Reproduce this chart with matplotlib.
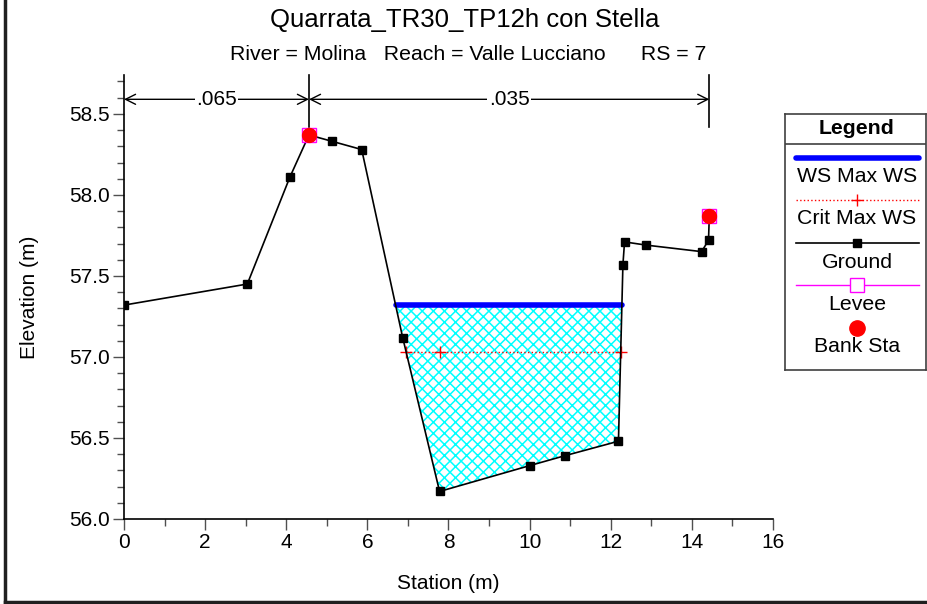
import matplotlib
matplotlib.use('Agg')
import matplotlib.pyplot as plt
from matplotlib.lines import Line2D
import numpy as np

plt.rcParams['font.family'] = ['Liberation Sans', 'DejaVu Sans']
plt.rcParams['hatch.linewidth'] = 1.1

# ground profile
station = [0.0, 3.04, 4.09, 4.56, 5.14, 5.86, 6.87, 7.78, 10.01, 10.86,
           12.19, 12.30, 12.34, 12.88, 14.24, 14.41, 14.43]
elevation = [57.32, 57.45, 58.11, 58.37, 58.33, 58.28, 57.12, 56.17, 56.33, 56.39,
             56.48, 57.57, 57.71, 57.69, 57.65, 57.72, 57.87]

ws_elev = 57.32
crit_sta = [6.96, 7.78, 12.25]
crit_elev = [57.03, 57.03, 57.03]

bank_sta = [4.56, 14.43]
bank_elev = [58.37, 57.87]

n_values = ['.065', '.035']
n_bounds = [0.0, 4.56, 14.43]

fig = plt.figure(figsize=(9.28, 6.04), dpi=100)
ax = fig.add_axes([124 / 928, 1 - 519 / 604, 649 / 928, 444 / 604])

x = np.array(station)
g = np.array(elevation)
ax.fill_between(x, g, ws_elev, where=g < ws_elev, interpolate=True,
                facecolor='white', edgecolor='#00ffff', hatch='xxx', linewidth=0)

# water surface edges = where ground crosses it
left_ws = np.interp(ws_elev, g[5:8][::-1], x[5:8][::-1])
right_ws = np.interp(ws_elev, g[10:12], x[10:12])
ax.plot([left_ws, right_ws], [ws_elev, ws_elev], color='#0000ff', lw=4,
        solid_capstyle='round', zorder=4)

ax.plot(crit_sta, crit_elev, color='red', ls=':', lw=1, marker='+', ms=8,
        mew=1, zorder=4)

ax.plot(station, elevation, color='black', lw=1.2, marker='s', ms=6, zorder=5)
ax.plot(bank_sta, bank_elev, ls='none', marker='s', ms=10, mfc='none',
        mec='magenta', mew=1, zorder=6)
ax.plot(bank_sta, bank_elev, ls='none', marker='o', ms=10, color='red', zorder=7)

# manning's n regions
y_arrow = 58.59
for i, lab in enumerate(n_values):
    a, b = n_bounds[i], n_bounds[i + 1]
    ax.annotate('', xy=(a, y_arrow), xytext=(b, y_arrow),
                arrowprops=dict(arrowstyle='<->', lw=1, color='black',
                                shrinkA=0, shrinkB=0, mutation_scale=18))
    ax.text((a + b) / 2, y_arrow, lab, ha='center', va='center', fontsize=15,
            bbox=dict(facecolor='white', edgecolor='none', pad=1))
for b in n_bounds[1:]:
    ax.plot([b, b], [58.42, 58.74], color='black', lw=1.2, clip_on=False)

ax.set_xlim(0, 16)
ax.set_ylim(56.0, 58.74)
ax.set_xticks(np.arange(0, 17, 2))
ax.set_xticks(np.arange(0, 17, 1), minor=True)
ax.set_yticks([56.0, 56.5, 57.0, 57.5, 58.0, 58.5])
ax.set_yticklabels(['56.0', '56.5', '57.0', '57.5', '58.0', '58.5'])
ax.set_yticks(np.arange(56.0, 58.71, 0.1), minor=True)
ax.tick_params(which='major', length=8, width=1, color='#505050', labelsize=15, pad=2)
ax.tick_params(which='minor', length=5, width=1, color='#505050')
for s in ['top', 'right']:
    ax.spines[s].set_visible(False)
ax.spines['left'].set_linewidth(1.2)
ax.spines['bottom'].set_linewidth(1.2)

ax.set_xlabel('Station (m)', fontsize=15, labelpad=16)
ax.set_ylabel('Elevation (m)', fontsize=15, labelpad=22)

fig.text(465 / 928, 1 - 20 / 604, 'Quarrata_TR30_TP12h con Stella',
         ha='center', va='center', fontsize=18.5)
fig.text(468 / 928, 1 - 54 / 604,
         'River = Molina   Reach = Valle Lucciano      RS = 7',
         ha='center', va='center', fontsize=15.3)

# legend box drawn by hand
lg = fig.add_axes([785 / 928, 1 - 370 / 604, 141 / 928, 256 / 604])
lg.set_xlim(785, 926)
lg.set_ylim(370, 114)
lg.set_xticks([])
lg.set_yticks([])
for s in lg.spines.values():
    s.set_linewidth(1.2)
    s.set_color('#404040')
lg.axhline(144, color='#404040', lw=1.2)
cx = 857
fs = 15.3
lg.text(cx, 128, 'Legend', ha='center', va='center', fontsize=fs, fontweight='bold')
lg.plot([796, 919], [157.5, 157.5], color='#0000ff', lw=4, solid_capstyle='round')
lg.text(cx, 177, 'WS Max WS', ha='center', va='center', fontsize=fs)
lg.plot([796, 919], [200, 200], color='red', ls=':', lw=1)
lg.plot([cx], [200], color='red', marker='+', ms=8)
lg.text(cx, 219, 'Crit Max WS', ha='center', va='center', fontsize=fs)
lg.plot([796, 919], [243, 243], color='black', lw=1.2)
lg.plot([cx], [243], color='black', marker='s', ms=6)
lg.text(cx, 262, 'Ground', ha='center', va='center', fontsize=fs)
lg.plot([796, 919], [285, 285], color='magenta', lw=1)
lg.plot([cx], [285], ls='none', marker='s', ms=10, mfc='white', mec='magenta')
lg.text(cx, 304, 'Levee', ha='center', va='center', fontsize=fs)
lg.plot([cx], [328], ls='none', marker='o', ms=11, color='red')
lg.text(cx, 347, 'Bank Sta', ha='center', va='center', fontsize=fs)

# outer frame (left and bottom only)
fig.add_artist(Line2D([5 / 928, 5 / 928], [1 / 604, 1], color='#202020', lw=2.5))
fig.add_artist(Line2D([5 / 928, 1], [2 / 604, 2 / 604], color='#202020', lw=2.5))

fig.savefig('out.png', dpi=100)
